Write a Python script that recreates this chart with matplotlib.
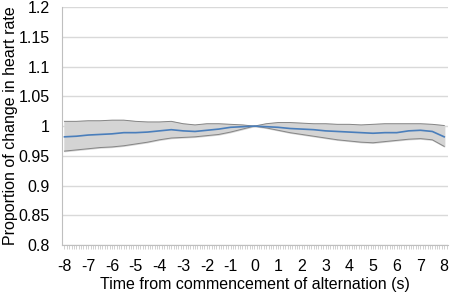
import numpy as np
import matplotlib.pyplot as plt

plt.rcParams['font.family'] = ['Liberation Sans', 'DejaVu Sans']
plt.rcParams['axes.unicode_minus'] = False

# time from commencement of alternation (s)
t = [-8, -7.5, -7, -6.5, -6, -5.5, -5, -4.5, -4, -3.5, -3, -2.5, -2, -1.5, -1, -0.5,
     0, 0.5, 1, 1.5, 2, 2.5, 3, 3.5, 4, 4.5, 5, 5.5, 6, 6.5, 7, 7.5, 8]

mean_hr = [0.982, 0.983, 0.985, 0.986, 0.987, 0.989, 0.989, 0.990, 0.992, 0.994, 0.992,
           0.991, 0.993, 0.995, 0.998, 0.999, 1.000, 0.999, 0.998, 0.996, 0.995, 0.994,
           0.992, 0.991, 0.990, 0.989, 0.988, 0.989, 0.989, 0.992, 0.993, 0.991, 0.982]

upper_hr = [1.008, 1.008, 1.009, 1.009, 1.010, 1.010, 1.008, 1.007, 1.007, 1.008, 1.004,
            1.002, 1.004, 1.004, 1.003, 1.002, 1.000, 1.004, 1.006, 1.006, 1.005, 1.004,
            1.004, 1.003, 1.003, 1.002, 1.003, 1.004, 1.004, 1.004, 1.004, 1.003, 1.001]

lower_hr = [0.958, 0.960, 0.962, 0.964, 0.965, 0.967, 0.970, 0.973, 0.977, 0.980, 0.981,
            0.982, 0.984, 0.986, 0.990, 0.995, 1.000, 0.997, 0.993, 0.989, 0.986, 0.983,
            0.980, 0.977, 0.975, 0.973, 0.972, 0.974, 0.976, 0.978, 0.979, 0.977, 0.966]

x_ticks = list(range(-8, 9))
y_ticks = [0.8, 0.85, 0.9, 0.95, 1.0, 1.05, 1.1, 1.15, 1.2]
y_labels = ['0.8', '0.85', '0.9', '0.95', '1', '1.05', '1.1', '1.15', '1.2']

fig = plt.figure(figsize=(4.5, 2.95), dpi=100)
ax = fig.add_axes([0.138, 0.169, 0.857, 0.807])

ax.fill_between(t, lower_hr, upper_hr, color='#d4d4d4', zorder=2)
ax.plot(t, upper_hr, color='#858585', lw=0.7, zorder=3)
ax.plot(t, lower_hr, color='#858585', lw=0.7, zorder=3)
ax.plot(t, mean_hr, color='#4a7ebb', lw=1.2, zorder=4)

ax.set_ylim(0.8, 1.2)
ax.set_xlim(-8.1, 8.15)
ax.set_yticks(y_ticks)
ax.set_yticklabels(y_labels)
ax.set_xticks(x_ticks)
ax.set_xticks(np.arange(-8, 8.2, 0.1), minor=True)
ax.grid(axis='y', color='#d9d9d9', lw=1, zorder=0)

for s in ['top', 'right']:
    ax.spines[s].set_visible(False)
for s in ['left', 'bottom']:
    ax.spines[s].set_color('#bfbfbf')

ax.tick_params(axis='y', length=0, labelsize=11.5, pad=9, colors='black')
ax.tick_params(axis='x', which='major', length=3, color='#bfbfbf', width=0.5,
               labelsize=11.5, pad=7)
ax.tick_params(axis='x', which='minor', length=3, color='#bfbfbf', width=0.5)

ax.set_xlabel('Time from commencement of alternation (s)', fontsize=11.5, labelpad=2)
ax.set_ylabel('Proportion of change in heart rate', fontsize=11.5, labelpad=0)

fig.savefig('out.png', dpi=100)
